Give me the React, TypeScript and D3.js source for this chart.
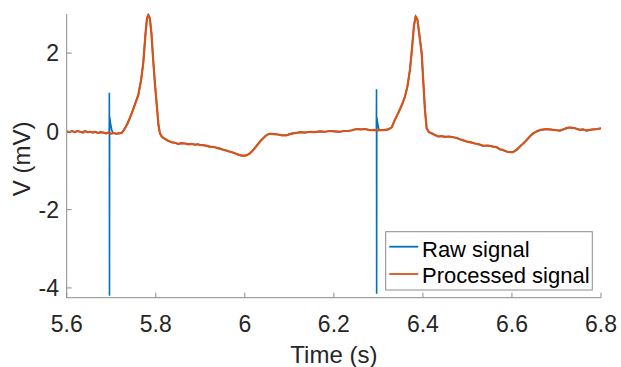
import React from "react";
import * as d3 from "d3";

// Processed signal (time in s, voltage in mV)
const procT = [
  5.600, 5.606, 5.612, 5.618, 5.624, 5.630, 5.636, 5.641, 5.647, 5.653, 5.659, 5.664, 5.670, 5.676, 5.682, 5.688, 5.694, 5.700, 5.706, 5.711, 5.717, 5.7235,
  5.7275, 5.7309, 5.7365, 5.7421, 5.7466, 5.7511, 5.7560, 5.7608, 5.7669, 5.7720, 5.7770, 5.7803, 5.7832, 5.7866, 5.7904, 5.7938, 5.7983, 5.8021, 5.8062, 5.8095,
  5.8140, 5.8190, 5.8246, 5.8300, 5.8365, 5.8430, 5.8506, 5.8580, 5.8657, 5.8730, 5.8814, 5.8880, 5.8949, 5.9000, 5.9061, 5.9140, 5.9218, 5.9300, 5.9375, 5.9440,
  5.9517, 5.9590, 5.9667, 5.9730, 5.9802, 5.9870, 5.9930, 6.0004, 6.0060, 6.0116, 6.0170, 6.0229, 6.0285, 6.0341, 6.0400, 6.0453, 6.0510, 6.0566, 6.0650, 6.0745,
  6.0840, 6.0940, 6.1010, 6.1082, 6.1160, 6.1239, 6.1350, 6.1464, 6.1570, 6.1688, 6.1800, 6.1913, 6.2020, 6.2137, 6.2230, 6.2317, 6.2410, 6.2512, 6.2600, 6.2699,
  6.2780, 6.2856, 6.2910, 6.2968, 6.3030, 6.3103, 6.3160, 6.3215, 6.3298, 6.3372, 6.3447, 6.3530, 6.3597, 6.3653, 6.3709, 6.3754, 6.3799, 6.3837, 6.3878, 6.3923,
  6.3972, 6.4013, 6.4046, 6.4084, 6.4136, 6.4197, 6.4270, 6.4345, 6.4420, 6.4495, 6.4590, 6.4682, 6.4760, 6.4832, 6.4910, 6.4983, 6.5080, 6.5169, 6.5260, 6.5356,
  6.5460, 6.5580, 6.5650, 6.5731, 6.5790, 6.5843, 6.5900, 6.5955, 6.6023, 6.6106, 6.6202, 6.6270, 6.6330, 6.6427, 6.6490, 6.6555, 6.6652, 6.6720, 6.6779, 6.6850,
  6.6921, 6.7000, 6.7078, 6.7130, 6.7190, 6.7250, 6.7303, 6.7360, 6.7415, 6.7470, 6.7527, 6.7600, 6.7678, 6.7750, 6.7820, 6.7910, 6.8000,
];
const procV = [
  0.00, -0.02, 0.01, -0.02, 0.01, -0.01, -0.03, 0.01, -0.02, -0.01, -0.03, -0.01, -0.04, -0.02, -0.03, -0.05, -0.03, -0.06, -0.04, -0.06, -0.05, -0.04,
  0.02, 0.08, 0.20, 0.35, 0.48, 0.62, 0.78, 0.93, 1.30, 1.75, 2.50, 2.88, 2.98, 2.90, 2.50, 1.90, 1.20, 0.70, 0.15, -0.05,
  -0.14, -0.18, -0.22, -0.25, -0.28, -0.29, -0.32, -0.30, -0.31, -0.33, -0.32, -0.34, -0.33, -0.35, -0.35, -0.37, -0.39, -0.40, -0.42, -0.44,
  -0.47, -0.49, -0.52, -0.54, -0.57, -0.60, -0.62, -0.62, -0.60, -0.56, -0.50, -0.42, -0.34, -0.26, -0.19, -0.13, -0.08, -0.06, -0.07, -0.08,
  -0.10, -0.10, -0.07, -0.05, -0.04, -0.02, -0.03, -0.01, -0.02, 0.00, -0.01, 0.01, 0.00, -0.01, 0.01, 0.01, 0.03, 0.06, 0.05, 0.06,
  0.04, 0.03, 0.04, 0.02, 0.03, 0.03, 0.04, 0.05, 0.10, 0.30, 0.47, 0.68, 0.89, 1.15, 1.57, 2.10, 2.70, 2.94, 2.85, 2.45,
  2.00, 1.20, 0.55, 0.08, -0.02, -0.05, -0.09, -0.13, -0.12, -0.14, -0.13, -0.15, -0.17, -0.20, -0.23, -0.26, -0.28, -0.31, -0.33, -0.37,
  -0.36, -0.39, -0.40, -0.46, -0.47, -0.50, -0.52, -0.53, -0.53, -0.47, -0.36, -0.29, -0.22, -0.10, -0.04, 0.00, 0.04, 0.05, 0.06, 0.05,
  0.04, 0.03, 0.02, 0.04, 0.07, 0.09, 0.10, 0.09, 0.08, 0.06, 0.04, 0.05, 0.02, 0.04, 0.05, 0.06, 0.08,
];

// Raw signal: follows the processed trace except at the pacing spikes
const rawSpikeT = [
  5.6940, 5.6955, 5.6958, 5.6961, 5.6964, 5.6985, 5.7010, 5.7035,
  6.2940, 6.2955, 6.2958, 6.2961, 6.2964, 6.2985, 6.3010, 6.3035,
];
const rawSpikeV = [
  -0.04, -0.04, 0.99, -4.20, 0.38, 0.20, 0.05, -0.04,
  0.03, 0.03, 1.08, -4.15, 0.36, 0.20, 0.06, 0.03,
];

const xTicks = [5.6, 5.8, 6, 6.2, 6.4, 6.6, 6.8];
const yTicks = [-4, -2, 0, 2];
const seriesNames = ["Raw signal", "Processed signal"];
const seriesColors = ["#0072BD", "#D95319"];

const W = 621;
const H = 367;
const left = 66.7;
const right = 601;
const top = 14;
const bottom = 297.7;

export default function App() {
  const x = d3.scaleLinear().domain([5.6, 6.8]).range([left, right]);
  const y = d3.scaleLinear().domain([-4.25, 3]).range([bottom, top]);

  const processed: [number, number][] = procT.map((t, i) => [t, procV[i]]);
  const spikes: [number, number][] = rawSpikeT.map((t, i) => [t, rawSpikeV[i]]);
  const windows = [
    [5.692, 5.704],
    [6.292, 6.304],
  ];
  const raw = processed
    .filter(([t]) => !windows.some(([a, b]) => t >= a && t <= b))
    .concat(spikes)
    .sort((a, b) => a[0] - b[0]);

  const line = d3
    .line<[number, number]>()
    .x((d) => x(d[0]))
    .y((d) => y(d[1]));

  const font = "'Liberation Sans', Arial, Helvetica, sans-serif";
  const axisColor = "#8c8c8c";
  const textColor = "#262626";

  return (
    <svg
      width={W}
      height={H}
      style={{ position: "absolute", left: 0, top: 0, background: "#fff" }}
      fontFamily={font}
    >
      <rect x={0} y={0} width={W} height={H} fill="#fff" />
      <defs>
        <clipPath id="plotclip">
          <rect x={left} y={top - 2} width={right - left} height={bottom - top + 2} />
        </clipPath>
      </defs>
      <g clipPath="url(#plotclip)">
        <path d={line(raw) || ""} fill="none" stroke={seriesColors[0]} strokeWidth={1.6} strokeLinejoin="miter" />
        <path d={line(processed) || ""} fill="none" stroke={seriesColors[1]} strokeWidth={2.2} strokeLinejoin="round" />
      </g>

      {/* axes */}
      <line x1={left} x2={left} y1={top} y2={bottom} stroke={axisColor} strokeWidth={1} />
      <line x1={left} x2={right} y1={bottom} y2={bottom} stroke={axisColor} strokeWidth={1} />
      {xTicks.map((t) => (
        <g key={"x" + t}>
          <line x1={x(t)} x2={x(t)} y1={bottom} y2={bottom - 5} stroke={axisColor} strokeWidth={1} />
          <text x={x(t)} y={331.5} textAnchor="middle" fontSize={23} fill={textColor}>
            {String(t)}
          </text>
        </g>
      ))}
      {yTicks.map((v) => (
        <g key={"y" + v}>
          <line x1={left} x2={left + 5} y1={y(v)} y2={y(v)} stroke={axisColor} strokeWidth={1} />
          <text x={59} y={y(v)} dy="0.36em" textAnchor="end" fontSize={23} fill={textColor}>
            {String(v)}
          </text>
        </g>
      ))}
      <text x={(left + right) / 2} y={362.5} textAnchor="middle" fontSize={24} fill={textColor}>
        Time (s)
      </text>
      <text
        transform={`translate(29.5, ${(top + bottom) / 2 + 3}) rotate(-90)`}
        textAnchor="middle"
        fontSize={24}
        fill={textColor}
      >
        V (mV)
      </text>

      {/* legend */}
      <rect x={385.7} y={231.7} width={206.6} height={58.3} fill="#fff" stroke={axisColor} strokeWidth={1} />
      {seriesNames.map((name, i) => (
        <g key={name}>
          <line
            x1={389.3}
            x2={418.3}
            y1={246.7 + i * 27.3}
            y2={246.7 + i * 27.3}
            stroke={seriesColors[i]}
            strokeWidth={1.8}
          />
          <text x={422} y={256.5 + i * 26.7} fontSize={22} fill="#000">
            {name}
          </text>
        </g>
      ))}
    </svg>
  );
}
